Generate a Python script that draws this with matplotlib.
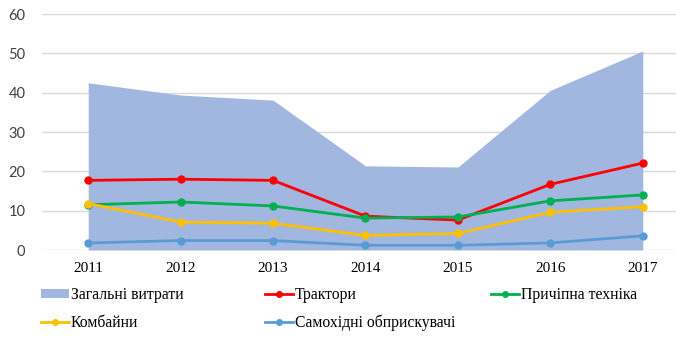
import matplotlib.pyplot as plt
from matplotlib.patches import Patch
from matplotlib.lines import Line2D

years = ['2011', '2012', '2013', '2014', '2015', '2016', '2017']
total = [42.5, 39.4, 38.1, 21.4, 21.1, 40.6, 50.6]
tractors = [17.7, 18.0, 17.7, 8.6, 7.6, 16.7, 22.1]
trailers = [11.5, 12.2, 11.2, 8.1, 8.4, 12.5, 14.0]
combines = [11.8, 7.1, 6.8, 3.7, 4.2, 9.6, 11.0]
sprayers = [1.8, 2.4, 2.4, 1.2, 1.2, 1.8, 3.6]

labels = ['Загальні витрати', 'Трактори', 'Причіпна техніка',
          'Комбайни', 'Самохідні обприскувачі']
colors = ['#A1B7E0', '#FF0000', '#00B050', '#FFC000', '#5B9BD5']

fig = plt.figure(figsize=(6.76, 3.39), dpi=100)
# plot area runs a bit past the right edge, like the original crop
ax = fig.add_axes([42 / 676, (339 - 250) / 339, 647 / 676, 236 / 339])

x = list(range(len(years)))
ax.fill_between(x, 0, total, color=colors[0], linewidth=0, zorder=1)
for vals, c in zip([tractors, trailers, combines, sprayers], colors[1:]):
    ax.plot(x, vals, color=c, linewidth=2.0, marker='o', markersize=5, zorder=3)

ax.set_xlim(-0.5, 6.5)
ax.set_ylim(0, 60)
ax.set_yticks(range(0, 61, 10))
ax.yaxis.grid(True, color='#D9D9D9', linewidth=1.0, zorder=0)
ax.set_axisbelow(True)
for s in ax.spines.values():
    s.set_visible(False)
ax.tick_params(length=0)
ax.tick_params(axis='y', pad=12, labelsize=10.5, labelcolor='#404040')
ax.set_xticks(x)
ax.set_xticklabels(years, fontfamily='Liberation Serif', fontsize=11)
ax.tick_params(axis='x', pad=9)
for t in ax.get_yticklabels():
    t.set_fontfamily('Lato')

# legend entries placed one by one (Excel-style fixed columns)
handles = [Patch(facecolor=colors[0], edgecolor='none')]
for c in colors[1:]:
    handles.append(Line2D([0], [0], color=c, linewidth=2.0, marker='o', markersize=4))
spots = [(41, 295), (265, 295), (491, 295), (41, 323), (265, 323)]
for i, (h, lab, (px, py)) in enumerate(zip(handles, labels, spots)):
    fig.legend([h], [lab], loc='center left', bbox_to_anchor=(px / 676, 1 - py / 339),
               frameon=False, handlelength=1.8, handleheight=0.5 if i == 0 else 0.7,
               handletextpad=0.1, borderpad=0, borderaxespad=0,
               prop={'family': 'Liberation Serif', 'size': 11.3})

fig.savefig('out.png', dpi=100)
